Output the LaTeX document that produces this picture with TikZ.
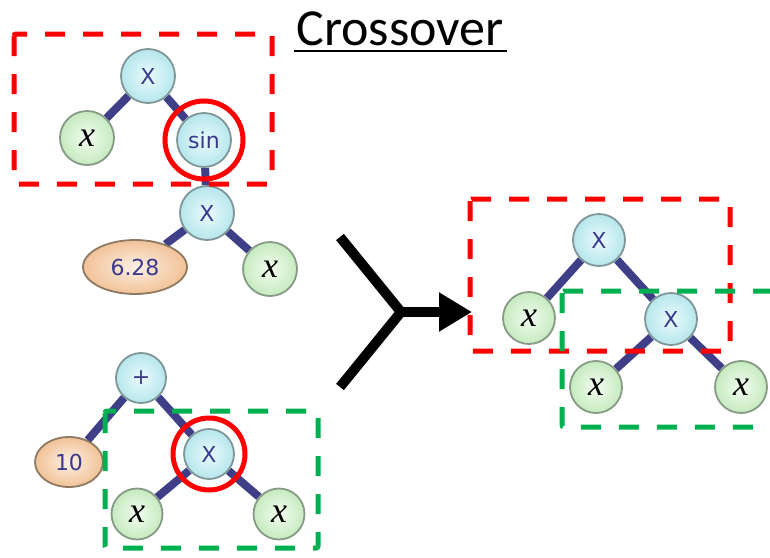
\documentclass[tikz,border=0pt]{standalone}
\usepackage{fontspec}
\setmainfont{Carlito}
\newfontfamily\nodefont{DejaVu Sans}
\newfontfamily\varfont{Liberation Serif}
\usetikzlibrary{shapes.geometric,arrows.meta,backgrounds}
\definecolor{opfill}{HTML}{B6E6EC}
\definecolor{opin}{HTML}{EAFBFC}
\definecolor{opline}{HTML}{7E9698}
\definecolor{leaffill}{HTML}{C6EABF}
\definecolor{leafin}{HTML}{F2FDF0}
\definecolor{leafline}{HTML}{869A86}
\definecolor{numfill}{HTML}{F1C297}
\definecolor{numin}{HTML}{FDF0E3}
\definecolor{numline}{HTML}{8E7A62}
\definecolor{txt}{HTML}{3A3A8C}
\definecolor{edgec}{HTML}{3F3F88}
\definecolor{gbox}{HTML}{00B050}
\tikzset{
  op/.style={circle, minimum size=#1, inner sep=0pt, draw=opline, line width=1.8pt,
    shade, shading=radial, inner color=opin, outer color=opfill,
    font=\nodefont\fontsize{22}{22}\selectfont, text=txt},
  op/.default=52pt,
  leaf/.style={circle, minimum size=#1, inner sep=0pt, draw=leafline, line width=1.8pt,
    shade, shading=radial, inner color=leafin, outer color=leaffill,
    font=\varfont\itshape\fontsize{36}{36}\selectfont, text=black},
  leaf/.default=52pt,
  num/.style={ellipse, inner sep=0pt, draw=numline, line width=1.8pt,
    shade, shading=radial, inner color=numin, outer color=numfill,
    font=\nodefont\fontsize{22}{22}\selectfont, text=txt},
  edge/.style={draw=edgec, line width=8pt},
  redbox/.style={draw=red, line width=5pt, dash pattern=on 20pt off 18pt, rounded corners=2pt},
  greenbox/.style={draw=gbox, line width=5pt, dash pattern=on 20pt off 18pt, rounded corners=2pt},
  ring/.style={draw=red, line width=5pt}
}
\begin{document}
\begin{tikzpicture}[x=1pt,y=-1pt]
\useasboundingbox (0,0) rectangle (770,557);
\clip (0,0) rectangle (770,557);
% title
\node[font=\fontsize{52}{52}\selectfont, anchor=base] (title) at (400,45) {Crossover};
\draw[line width=2pt] (title.base west) ++(1,6) coordinate (ul1) -- (ul1 -| title.base east);

% top tree
\node[op=54pt] (t1) at (148,76) {X};
\node[leaf=54pt] (t2) at (87,138) {x};
\node[op=54pt] (t3) at (204,140) {sin};
\node[op=54pt] (t4) at (207,213) {X};
\node[num, minimum width=104pt, minimum height=54pt] (t5) at (135,267) {6.28};
\node[leaf=54pt] (t6) at (270,269) {x};

% bottom tree
\node[op=50pt] (b1) at (141,378) {+};
\node[num, minimum width=68pt, minimum height=50pt] (b2) at (69,462) {10};
\node[op=50pt] (b3) at (209,454) {X};
\node[leaf=51pt] (b4) at (137,514) {x};
\node[leaf=51pt] (b5) at (279,514) {x};

% result tree
\node[op=52pt] (r1) at (599,240) {X};
\node[leaf=52pt] (r2) at (529,318) {x};
\node[op=52pt] (r3) at (671,319) {X};
\node[leaf=52pt] (r4) at (596,387) {x};
\node[leaf=52pt] (r5) at (741,387) {x};

\begin{scope}[on background layer]
\draw[edge] (t1) -- (t2);
\draw[edge] (t1) -- (t3);
\draw[edge] (t3) -- (t4);
\draw[edge] (t4) -- (t5);
\draw[edge] (t4) -- (t6);
\draw[edge] (b1) -- (b2);
\draw[edge] (b1) -- (b3);
\draw[edge] (b3) -- (b4);
\draw[edge] (b3) -- (b5);
\draw[edge] (r1) -- (r2);
\draw[edge] (r1) -- (r3);
\draw[edge] (r3) -- (r4);
\draw[edge] (r3) -- (r5);
\end{scope}

% rings
\draw[ring] (t3) circle[radius=39pt];
\draw[ring] (b3) circle[radius=36pt];

% boxes
\draw[redbox] (14,34) rectangle (272,184);
\draw[greenbox] (105,411) rectangle (318,548);
\draw[redbox] (470,199) rectangle (730,351);
\draw[greenbox] (562,291) rectangle (800,427);

% arrow
\coordinate (a1) at (340,237);
\coordinate (j) at (401,312);
\coordinate (a2) at (340,387);
\coordinate (tip) at (472,312);
\draw[line width=10pt, miter limit=10] (a1) -- (j) -- (a2);
\draw[line width=10pt, -{Triangle[length=33pt,width=37pt]}] (j) -- (tip);
\end{tikzpicture}
\end{document}
